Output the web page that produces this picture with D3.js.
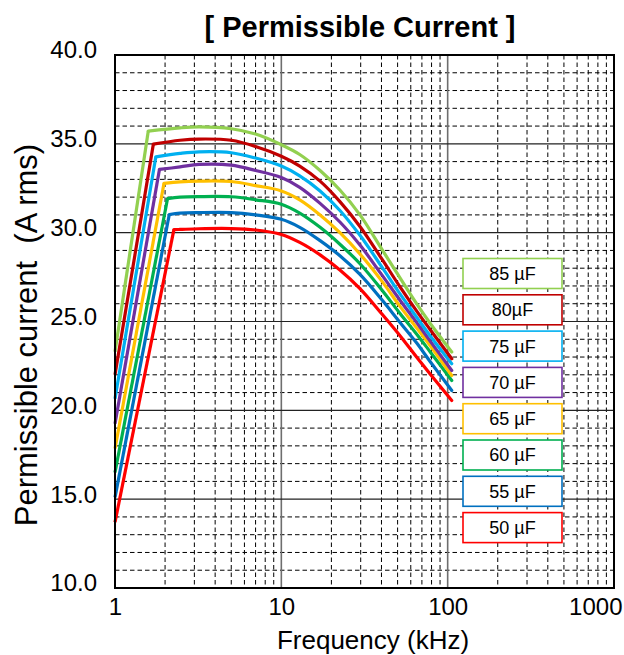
<!DOCTYPE html>
<html><head><meta charset="utf-8">
<script src="https://cdn.jsdelivr.net/npm/d3@7"></script>
<style>
body{margin:0;background:#fff}
text{font-family:Arial,"Liberation Sans",Helvetica,sans-serif;fill:#000}
</style>
</head><body>
<svg id="chart" width="624" height="655"></svg>
<script>
// ---- data ----
const seriesNames  = ["85 µF","80µF","75 µF","70 µF","65 µF","60 µF","55 µF","50 µF"];
const seriesColors = ["#92D050","#C00000","#00B0F0","#7030A0","#FFC000","#00B050","#0070C0","#FF0000"];
const startValues  = [23.3, 22.0, 20.65, 19.25, 17.85, 16.5, 15.1, 13.7]; // at 1 kHz
const kneeFreqs    = [1.585, 1.70, 1.76, 1.85, 1.97, 2.07, 2.12, 2.26];
const kneeValues   = [35.72, 34.98, 34.27, 33.56, 32.77, 31.92, 31.02, 30.17];
const bodyFreqs    = [2.46, 3.2, 5, 7, 10, 12.9, 17.1, 22.5, 29.7, 40, 51.7, 65, 78.4, 105.8];
const bodyValues = [
  [35.90, 35.95, 35.85, 35.55, 34.95, 34.40, 33.50, 32.40, 31.00, 29.10, 27.45, 26.00, 24.90, 23.28],
  [35.20, 35.27, 35.20, 34.85, 34.30, 33.75, 32.90, 31.75, 30.35, 28.55, 26.95, 25.60, 24.55, 22.90],
  [34.46, 34.55, 34.50, 34.20, 33.75, 33.20, 32.35, 31.25, 29.85, 28.10, 26.55, 25.25, 24.20, 22.62],
  [33.70, 33.84, 33.80, 33.50, 33.10, 32.55, 31.65, 30.60, 29.30, 27.65, 26.20, 24.95, 23.90, 22.24],
  [32.86, 32.90, 32.88, 32.65, 32.35, 31.85, 31.00, 30.00, 28.80, 27.30, 25.85, 24.65, 23.65, 21.96],
  [32.00, 32.03, 32.02, 31.85, 31.60, 31.10, 30.30, 29.35, 28.25, 26.80, 25.45, 24.30, 23.30, 21.68],
  [31.10, 31.13, 31.13, 31.00, 30.75, 30.30, 29.55, 28.70, 27.65, 26.25, 24.95, 23.80, 22.75, 21.12],
  [30.18, 30.22, 30.23, 30.15, 29.90, 29.45, 28.75, 27.90, 26.85, 25.45, 24.20, 23.00, 22.05, 20.55]
];
const yTicks = [10, 15, 20, 25, 30, 35, 40];
const xTicks = [1, 10, 100, 1000];
const titleText = "[ Permissible Current ]";
const xTitle = "Frequency (kHz)";
const yTitle = "Permissible current  (A rms)";

// ---- layout ----
const L = 115, R = 614, T = 55, B = 588;
const svg = d3.select("#chart");
const x = d3.scaleLog().domain([1, 1000]).range([L, R]);
const y = d3.scaleLinear().domain([10, 40]).range([B, T]);

// grid: minor
const minorX = [];
[1, 10, 100].forEach(d => { for (let k = 2; k <= 9; k++) minorX.push(d * k); });
const minorY = d3.range(11, 40).filter(v => v % 5 !== 0);
const g = svg.append("g");
g.selectAll(".mx").data(minorX).enter().append("line")
  .attr("x1", d => x(d)).attr("x2", d => x(d)).attr("y1", T).attr("y2", B)
  .attr("stroke", "#000").attr("stroke-width", 1).attr("stroke-dasharray", "4.5,3");
g.selectAll(".my").data(minorY).enter().append("line")
  .attr("x1", L).attr("x2", R).attr("y1", d => y(d)).attr("y2", d => y(d))
  .attr("stroke", "#000").attr("stroke-width", 1).attr("stroke-dasharray", "4.5,3");
// grid: major
g.selectAll(".Mx").data([10, 100]).enter().append("line")
  .attr("x1", d => x(d)).attr("x2", d => x(d)).attr("y1", T).attr("y2", B)
  .attr("stroke", "#6e6e6e").attr("stroke-width", 1.6);
g.selectAll(".My").data([15, 20, 25, 30, 35]).enter().append("line")
  .attr("x1", L).attr("x2", R).attr("y1", d => y(d)).attr("y2", d => y(d))
  .attr("stroke", "#222").attr("stroke-width", 1.2);

// curves
const lineLin = d3.line().x(d => x(d[0])).y(d => y(d[1]));
const lineSmooth = d3.line().x(d => x(d[0])).y(d => y(d[1])).curve(d3.curveCatmullRom.alpha(0.5));
const order = d3.range(seriesNames.length).reverse();
order.forEach(i => {
  const rise = [[1, startValues[i]], [kneeFreqs[i], kneeValues[i]]];
  const body = [[kneeFreqs[i], kneeValues[i]]].concat(bodyFreqs.map((f, j) => [f, bodyValues[i][j]]));
  svg.append("path").attr("d", lineLin(rise)).attr("fill", "none")
    .attr("stroke", seriesColors[i]).attr("stroke-width", 3.2).attr("stroke-linejoin", "round");
  svg.append("path").attr("d", lineSmooth(body)).attr("fill", "none")
    .attr("stroke", seriesColors[i]).attr("stroke-width", 3.2).attr("stroke-linejoin", "round").attr("stroke-linecap", "round");
});

// frame
svg.append("rect").attr("x", L).attr("y", T).attr("width", R - L).attr("height", B - T)
  .attr("fill", "none").attr("stroke", "#000").attr("stroke-width", 2);

// axes labels
const yAxis = d3.axisLeft(y).tickValues(yTicks).tickFormat(d3.format(".1f")).tickSize(0).tickPadding(18);
const ya = svg.append("g").attr("transform", `translate(${L},0)`).call(yAxis);
ya.select(".domain").remove();
ya.selectAll("text").attr("font-size", 24).attr("dy", "0.12em").style("font-family", "Arial, 'Liberation Sans', sans-serif");

const xAxis = d3.axisBottom(x).tickValues(xTicks).tickFormat(d3.format("d")).tickSize(0).tickPadding(10);
const xa = svg.append("g").attr("transform", `translate(0,${B})`).call(xAxis);
xa.select(".domain").remove();
xa.selectAll("text").attr("font-size", 24).style("font-family", "Arial, 'Liberation Sans', sans-serif");
xa.selectAll(".tick").filter(d => d === 1000).select("text").attr("text-anchor", "end").attr("dx", "8");

// titles
svg.append("text").attr("x", 360).attr("y", 37).attr("text-anchor", "middle")
  .attr("font-size", 29).attr("font-weight", "bold").text(titleText);
svg.append("text").attr("x", 373).attr("y", 649).attr("text-anchor", "middle")
  .attr("font-size", 26).text(xTitle);
svg.append("text").attr("transform", "translate(37,335) rotate(-90)").attr("text-anchor", "middle")
  .style("white-space", "pre").attr("font-size", 31).text(yTitle);

// legend
const lg = svg.append("g");
seriesNames.forEach((n, i) => {
  const ly = 258.5 + i * 36.3;
  lg.append("rect").attr("x", 463).attr("y", ly).attr("width", 99).attr("height", 30)
    .attr("fill", "#fff").attr("stroke", seriesColors[i]).attr("stroke-width", 1.6);
  lg.append("text").attr("x", 512.5).attr("y", ly + 15).attr("dy", "0.36em")
    .attr("text-anchor", "middle").attr("font-size", 18).text(n);
});
</script>
</body></html>
